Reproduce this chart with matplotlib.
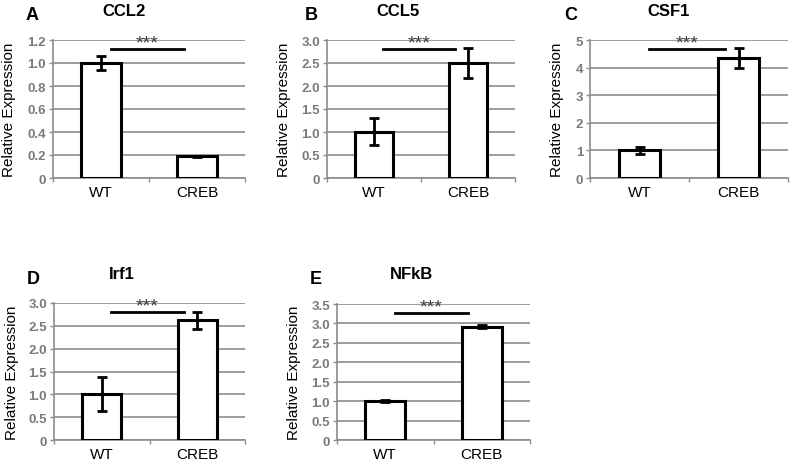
"""
Relative expression of CREB target genes, WT vs CREB (panels A-E).
"""

import matplotlib.pyplot as plt
import numpy as np

plt.rcParams["font.family"] = ["Liberation Sans", "DejaVu Sans"]

# data
genes = ["CCL2", "CCL5", "CSF1", "Irf1", "NFkB"]
panel_letters = ["A", "B", "C", "D", "E"]
groups = ["WT", "CREB"]
wt_mean = [1.00, 1.01, 1.00, 1.01, 1.01]
wt_err = [0.06, 0.30, 0.13, 0.37, 0.03]
creb_mean = [0.19, 2.50, 4.35, 2.62, 2.92]
creb_err = [0.005, 0.33, 0.37, 0.19, 0.05]
y_max = [1.2, 3.0, 5, 3.0, 3.5]
y_step = [0.2, 0.5, 1, 0.5, 0.5]
y_fmt = ["{:.1f}", "{:.1f}", "{:.0f}", "{:.1f}", "{:.1f}"]

# layout in pixels: axes box (left, top, right, bottom), title x, letter x, title y, ylabel x
W, H = 796, 464
axes_px = [
    (53, 41, 245, 179),
    (327, 41, 515, 179),
    (590, 41, 788, 179),
    (54, 304, 245, 441),
    (337, 305, 530, 441),
]
title_px = [(124, 32, 12), (398, 311, 12), (669, 571, 12), (122, 33, 275), (411, 316, 275)]
ylabel_px = [16, 291, 564, 19, 301]

GRID = "#8c8c8c"
TICK = "#7a7a7a"

fig = plt.figure(figsize=(W / 100, H / 100), dpi=100)

for i, gene in enumerate(genes):
    l, t, r, b = axes_px[i]
    ax = fig.add_axes([l / W, 1 - b / H, (r - l) / W, (b - t) / H])
    x = np.arange(len(groups))
    means = [wt_mean[i], creb_mean[i]]
    errs = [wt_err[i], creb_err[i]]
    ax.bar(x, means, width=0.41, color="white", edgecolor="black", linewidth=2.2, zorder=3)
    ax.errorbar(x, means, yerr=errs, fmt="none", ecolor="black", elinewidth=2,
                capsize=3.5, capthick=2, zorder=4)

    ax.set_xlim(-0.5, 1.5)
    ax.set_ylim(0, y_max[i])
    ticks = np.arange(0, y_max[i] + 1e-9, y_step[i])
    ax.set_yticks(ticks)
    ax.set_yticklabels(["0"] + [y_fmt[i].format(v) for v in ticks[1:]],
                       color=TICK, fontweight="bold", fontsize=9.5)
    ax.yaxis.grid(True, color=GRID, linewidth=1.2, zorder=0)
    ax.tick_params(axis="y", length=3, color=GRID, width=1, pad=2)

    # category labels centred, ticks on category boundaries
    ax.set_xticks([-0.5, 0.5, 1.5])
    ax.set_xticklabels([])
    ax.set_xticks(x, minor=True)
    ax.set_xticklabels(groups, minor=True, fontsize=11)
    ax.tick_params(axis="x", which="major", length=3, color=GRID, width=1, direction="out")
    ax.tick_params(axis="x", which="minor", length=0, pad=5)

    for side in ["top", "right"]:
        ax.spines[side].set_visible(False)
    for side in ["left", "bottom"]:
        ax.spines[side].set_color(GRID)
        ax.spines[side].set_linewidth(1.2)

    ax.set_ylabel("Relative Expression", fontsize=11)
    ax.yaxis.set_label_coords(ylabel_px[i] / W, 1 - ((t + b) / 2) / H, transform=fig.transFigure)

    # significance bar
    y_sig = 0.935 * y_max[i]
    ax.plot([0.1, 0.86], [y_sig, y_sig], color="black", linewidth=2, clip_on=False, zorder=5)
    ax.text(0.49, 0.945, "***", transform=ax.transAxes, ha="center", va="baseline",
            fontsize=14, color="#3a3a3a")

    tx, lx, ty = title_px[i]
    fig.text(tx / W, 1 - ty / H, gene, ha="center", va="center", fontsize=12, fontweight="bold")
    fig.text(lx / W, 1 - (ty + 4) / H, panel_letters[i], ha="center", va="center",
             fontsize=13, fontweight="bold")

fig.savefig("out.png", dpi=100)
